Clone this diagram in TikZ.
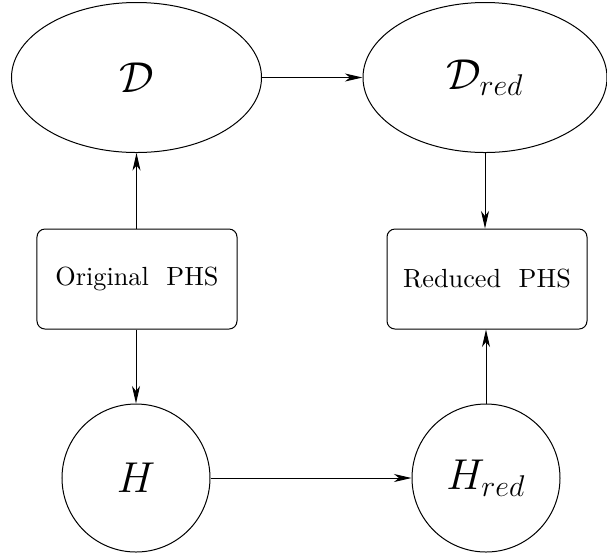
\documentclass[tikz,border=0pt]{standalone}
\usetikzlibrary{shapes.geometric,arrows.meta}
\begin{document}
\begin{tikzpicture}[x=0.4pt,y=-0.4pt,
  every node/.style={inner sep=0pt, line width=0.4pt},
  ell/.style={draw, ellipse, minimum width=100pt, minimum height=60pt},
  circ/.style={draw, circle, minimum size=59.2pt},
  boxnode/.style={draw, rounded corners=3.2pt, minimum width=80pt, minimum height=40pt, font=\fontsize{10.5}{12}\selectfont},
  conn/.style={line width=0.4pt, -{Stealth[length=7pt,width=3.2pt,inset=2pt]}}]
\useasboundingbox (0,0) rectangle (607,556);
\node[ell] (D) at (136.5,77.5) {\LARGE $\mathcal{D}$};
\node[ell, minimum width=97.6pt] (Dr) at (485,77.5) {\LARGE $\mathcal{D}_{red}$};
\node[boxnode] (O) at (137,279) {Original~~PHS};
\node[boxnode] (R) at (487,279) {Reduced~~PHS};
\node[circ] (H) at (136,478) {\LARGE $H$};
\node[circ] (Hr) at (486,478) {\LARGE $H_{red}$};
\draw[conn] (D) -- (Dr);
\draw[conn] (O.north -| D) -- (D.south);
\draw[conn] (O.south -| H) -- (H.north);
\draw[conn] (Dr.south) -- (R.north -| Dr);
\draw[conn] (Hr.north) -- (R.south -| Hr);
\draw[conn] (H) -- (Hr);
\end{tikzpicture}
\end{document}
